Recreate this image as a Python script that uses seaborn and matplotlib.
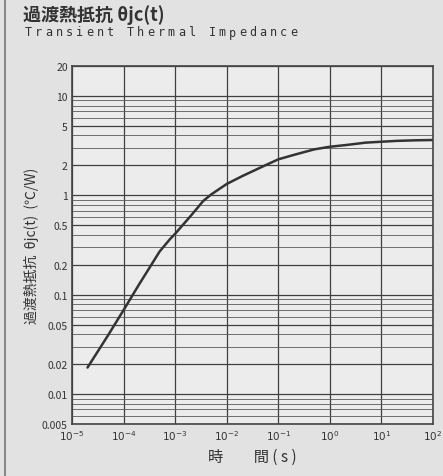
import numpy as np
import pandas as pd
import matplotlib
matplotlib.use("Agg")
import matplotlib.pyplot as plt
import matplotlib.ticker as mticker
import seaborn as sns

# Values
time_s = [2e-5, 5e-5, 1e-4, 2e-4, 3.25e-4, 5e-4, 8e-4, 1e-3, 2e-3, 2.6e-3, 3.5e-3,
          5e-3, 1e-2, 2e-2, 5e-2, 1e-1, 2e-1, 5e-1, 1, 2, 5, 10, 20, 50, 100]
z_th = [0.0185, 0.039, 0.070, 0.127, 0.19, 0.272, 0.364, 0.41, 0.62, 0.728, 0.877,
        1.02, 1.30, 1.56, 1.95, 2.30, 2.55, 2.90, 3.08, 3.20, 3.39, 3.46, 3.53, 3.58, 3.60]

y_ticks = [0.005, 0.01, 0.02, 0.05, 0.1, 0.2, 0.5, 1, 2, 5, 10, 20]
y_tick_labels = ["0.005", "0.01", "0.02", "0.05", "0.1", "0.2", "0.5", "1", "2", "5", "10", "20"]
x_ticks = [1e-5, 1e-4, 1e-3, 1e-2, 1e-1, 1e0, 1e1, 1e2]
x_tick_labels = [r"$10^{-5}$", r"$10^{-4}$", r"$10^{-3}$", r"$10^{-2}$",
                 r"$10^{-1}$", r"$10^{0}$", r"$10^{1}$", r"$10^{2}$"]

title_jp = "過渡熱抵抗 θjc(t)"
title_en = "Transient Thermal Impedance"

sns.set_theme(style="white")
plt.rcParams['font.family'] = ['Noto Sans CJK JP', 'DejaVu Sans']

df = pd.DataFrame({"t": time_s, "z": z_th})

W, H = 443, 477
fig = plt.figure(figsize=(W / 100, H / 100), dpi=100, facecolor="#e2e2e2")
ax = fig.add_axes([72 / W, 1 - 425 / H, 361 / W, 358 / H])
ax.set_facecolor("#ececec")

ax.set_xscale("log")
ax.set_yscale("log")
ax.set_xlim(1e-5, 1e2)
ax.set_ylim(0.005, 20)

# log-paper grid
ax.xaxis.set_minor_locator(mticker.LogLocator(base=10, subs=np.arange(2, 10)))
ax.yaxis.set_minor_locator(mticker.LogLocator(base=10, subs=np.arange(2, 10)))
ax.grid(which="major", color="#404040", linewidth=0.9)
ax.grid(which="minor", color="#5a5a5a", linewidth=0.6)
ax.set_axisbelow(True)

sns.lineplot(data=df, x="t", y="z", ax=ax, color="#333333", linewidth=1.8)

ax.set_yticks(y_ticks)
ax.set_yticklabels(y_tick_labels, fontsize=7.5, color="#333333")
ax.yaxis.set_minor_formatter(mticker.NullFormatter())
ax.set_xticks(x_ticks)
ax.set_xticklabels(x_tick_labels, fontsize=7.5, color="#333333")
ax.xaxis.set_minor_formatter(mticker.NullFormatter())
ax.tick_params(which="both", length=0, pad=3)

for s in ax.spines.values():
    s.set_color("#444444")
    s.set_linewidth(1.2)

ax.set_xlabel("時　　間 ( s )", fontsize=11, color="#333333", labelpad=4)
ax.set_ylabel("過渡熱抵抗  θjc(t)  (℃/W)", fontsize=10, color="#333333", labelpad=2)

fig.text(23 / W, 1 - 15 / H, title_jp, fontsize=13, fontweight="bold",
         color="#333333", va="center", ha="left")
# wide-spaced english subtitle, one glyph per cell like the scanned sheet
for i, ch in enumerate(title_en):
    fig.text((25 + i * 10.2) / W, 1 - 33 / H, ch, fontsize=8.5, color="#333333",
             va="center", ha="left", family="DejaVu Sans Mono")

# scanned page edge on the left
fig.add_artist(plt.Line2D([5 / W, 5 / W], [0.0, 1.0], color="#777777", linewidth=1.2))

fig.savefig("out.png", dpi=100, facecolor=fig.get_facecolor())
